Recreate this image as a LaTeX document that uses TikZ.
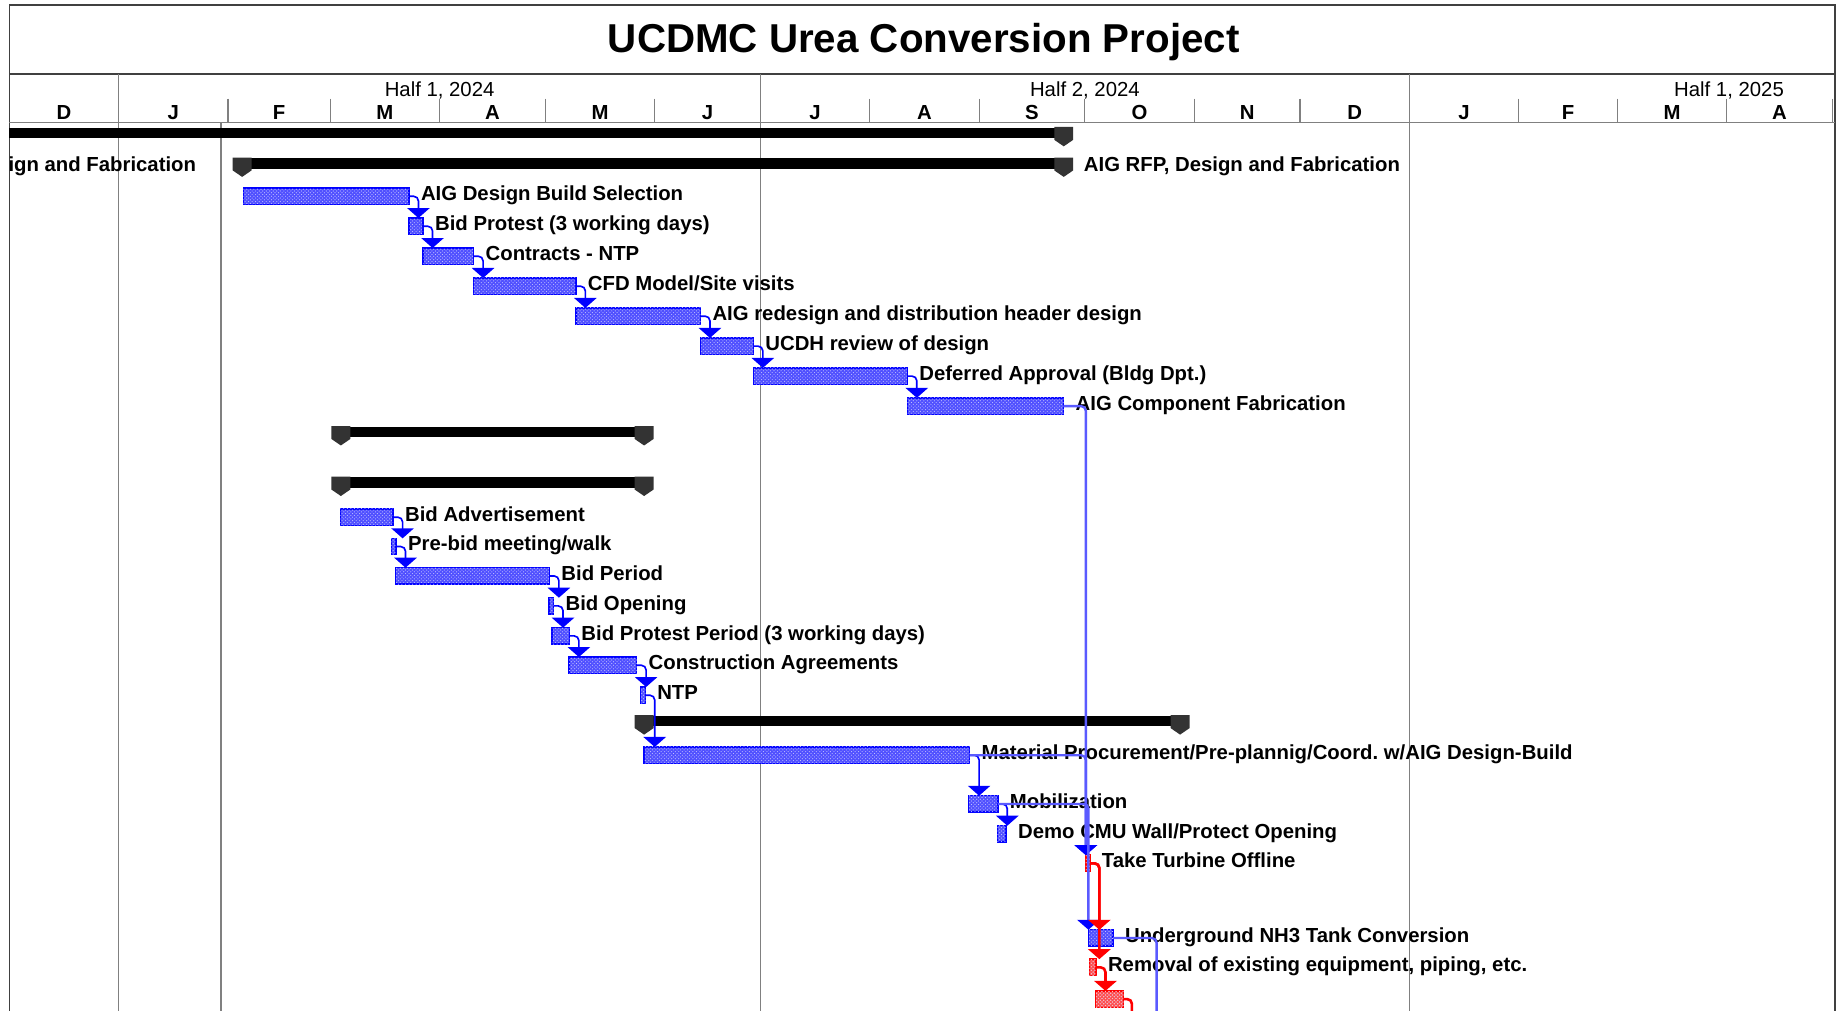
\documentclass[tikz,border=0pt]{standalone}
\usepackage{fontspec}
\setmainfont{Liberation Sans}
\usetikzlibrary{arrows.meta,patterns}
\frenchspacing

\definecolor{barblue}{RGB}{80,80,255}
\definecolor{barred}{RGB}{255,80,80}
\definecolor{framegray}{RGB}{64,64,64}
\definecolor{gridgray}{RGB}{128,128,128}
\definecolor{markgray}{RGB}{51,51,51}
\definecolor{linkblue}{RGB}{90,90,255}

\begin{document}
\begin{tikzpicture}[
  x=1pt,
  y=-1pt,
  every node/.style={font=\fontsize{17.3pt}{20pt}\selectfont},
  task/.style={draw=blue, fill=barblue, line width=1.2pt, minimum height=14pt,
    inner sep=0pt, outer sep=0pt, anchor=west,
    postaction={pattern=crosshatch dots, pattern color=white!75!blue}},
  crit/.style={task, draw=red, fill=barred,
    postaction={pattern=crosshatch dots, pattern color=white!75!red}},
  summary/.style={fill=black, minimum height=9pt, inner sep=0pt, outer sep=0pt, anchor=west},
  lbl/.style={anchor=base west, inner sep=0pt, font=\fontsize{17.3pt}{20pt}\selectfont\bfseries},
  link/.style={draw=blue, line width=1.4pt, rounded corners=4pt, -{Triangle[width=19pt,length=8.5pt]}},
  longlink/.style={link, draw=linkblue, line width=2pt, -{Triangle[width=19pt,length=8.5pt,color=blue]}},
  critlink/.style={link, draw=red, line width=2.2pt}
  ]
  \useasboundingbox (0,0) rectangle (1568,860);
  \clip (0,0) rectangle (1568,860);

  % frame and title
  \draw[framegray, line width=1.5pt] (8,880) -- (8,4) -- (1561,4) -- (1561,880);
  \draw[framegray, line width=1.5pt] (8,63) -- (1561,63);
  \node[anchor=base, font=\fontsize{34.3pt}{40pt}\selectfont\bfseries] (title) at (786,45)
  {UCDMC Urea Conversion Project};

  % timescale
  \draw[gridgray, line width=1pt] (8,104) -- (1561,104);
  \foreach \x in {194,281,374,464,557,740,833,923,1016,1106,1292,1376,1469,1559}
  \draw[gridgray, line width=1pt] (\x,84) -- (\x,104);
  \foreach \x in {101,647,1199}
  \draw[gridgray, line width=1pt] (\x,63) -- (\x,880);
  \draw[gridgray, line width=1pt] (188,104) -- (188,880);

  \node[anchor=base] (half1) at (374,82) {Half 1, 2024};
  \node[anchor=base] (half2) at (923,82) {Half 2, 2024};
  \node[anchor=base] (half3) at (1471,82) {Half 1, 2025};
  \foreach \m/\x [count=\i] in {D/54.5,J/147.5,F/237.5,M/327.5,A/419,M/510.5,J/602,J/693.5,
    A/786.5,S/878,O/969.5,N/1061,D/1152.5,J/1245.5,F/1334,M/1422.5,A/1514}
  \node[anchor=base, font=\fontsize{17.3pt}{20pt}\selectfont\bfseries] (m\i) at (\x,102) {\m};

  % summary bars
  \node[summary, minimum width=897pt] (sum0) at (8,113) {};
  \node[summary, minimum width=699pt] (sum1) at (206,139) {};
  \node[summary, minimum width=258pt] (sum2) at (290,367.5) {};
  \node[summary, minimum width=258pt] (sum3) at (290,410.5) {};
  \node[summary, minimum width=456pt] (sum4) at (548,613.5) {};
  \foreach \p in {sum0.north east,sum1.north west,sum1.north east,sum2.north west,
    sum2.north east,sum3.north west,sum3.north east,sum4.north west,sum4.north east}
  \fill[markgray] (\p) ++(-8,-0.5) -- ++(16,0) -- ++(0,11) -- ++(-8,5.5) -- ++(-8,-5.5) -- cycle;

  \node[lbl] (lsum1) at ([xshift=17pt,yshift=-7pt]sum1.east) {AIG RFP, Design and Fabrication};
  \node[lbl, anchor=base east] (lsum0) at (167,146) {ign and Fabrication};

  % AIG tasks
  \node[task, minimum width=141pt] (selection) at (207,167) {};
  \node[task, minimum width=12pt] (protest) at (348,192.5) {};
  \node[task, minimum width=43pt] (contracts) at (360,218) {};
  \node[task, minimum width=87pt] (cfd) at (403,243.5) {};
  \node[task, minimum width=106pt] (redesign) at (490,269) {};
  \node[task, minimum width=45pt] (review) at (596,294.5) {};
  \node[task, minimum width=131pt] (deferred) at (641,320) {};
  \node[task, minimum width=133pt] (fabrication) at (772,345.5) {};

  % bidding
  \node[task, minimum width=45pt] (advert) at (289.5,440) {};
  \node[task, minimum width=4pt] (prebid) at (333,465) {};
  \node[task, minimum width=131pt] (period) at (336.5,490) {};
  \node[task, minimum width=4pt] (opening) at (467,515.5) {};
  \node[task, minimum width=15pt] (bidprotest) at (469.5,541) {};
  \node[task, minimum width=57.5pt] (agreements) at (484.2,566) {};
  \node[task, minimum width=4pt] (ntp) at (545,591.5) {};

  % construction
  \node[task, minimum width=277pt] (material) at (548,642.5) {};
  \node[task, minimum width=25pt] (mobilization) at (824,684) {};
  \node[task, minimum width=7.5pt] (demo) at (848.5,709.5) {};
  \node[crit, minimum width=3.5pt] (turbine) at (923.8,734.5) {};
  \node[task, minimum width=21pt] (underground) at (926,798) {};
  \node[crit, minimum width=5.5pt] (removal) at (927,823) {};
  \node[crit, minimum width=23.5pt] (excavate) at (932.2,850) {};

  \foreach \n/\t in {selection/AIG Design Build Selection,
    protest/Bid Protest (3 working days),
    contracts/Contracts - NTP,
    cfd/{CFD Model/Site visits},
    redesign/AIG redesign and distribution header design,
    review/UCDH review of design,
    deferred/Deferred Approval (Bldg Dpt.),
    fabrication/AIG Component Fabrication,
    advert/Bid Advertisement,
    prebid/{Pre-bid meeting/walk},
    period/Bid Period,
    opening/Bid Opening,
    bidprotest/Bid Protest Period (3 working days),
    agreements/Construction Agreements,
    ntp/NTP,
    material/{Material Procurement/Pre-plannig/Coord. w/AIG Design-Build},
    mobilization/Mobilization,
    demo/{Demo CMU Wall/Protect Opening},
    turbine/Take Turbine Offline,
    underground/Underground NH3 Tank Conversion,
    removal/{Removal of existing equipment, piping, etc.}}
  \node[lbl] (l\n) at ([xshift=10pt,yshift=-3.5pt]\n.east) {\t};

  % links
  \foreach \a/\b in {selection/protest,protest/contracts,contracts/cfd,cfd/redesign,
    redesign/review,review/deferred,deferred/fabrication,
    advert/prebid,prebid/period,period/opening,opening/bidprotest,
    bidprotest/agreements,agreements/ntp,ntp/material,
    material/mobilization,mobilization/demo}
  \draw[link] (\a.east) -| ([xshift=8pt]\a.east |- \b.north);

  \draw[longlink] (fabrication.east) -| (turbine.north west);
  \draw[longlink] (material.east) -| (turbine.north west);
  \draw[longlink] (mobilization.east) -| (underground.north west);
  \coordinate (ugdown) at (984,880);
  \draw[longlink, -] (underground.east) -| (ugdown);

  \draw[critlink] (turbine.east) -| ([xshift=8pt]turbine.east |- underground.north);
  \draw[critlink] (turbine.east) -| ([xshift=8pt]turbine.east |- removal.north);
  \draw[critlink] (removal.east) -| ([xshift=8pt]removal.east |- excavate.north);
  \coordinate (exdown) at (963,880);
  \draw[critlink, -] (excavate.east) -| (exdown);
\end{tikzpicture}
\end{document}
